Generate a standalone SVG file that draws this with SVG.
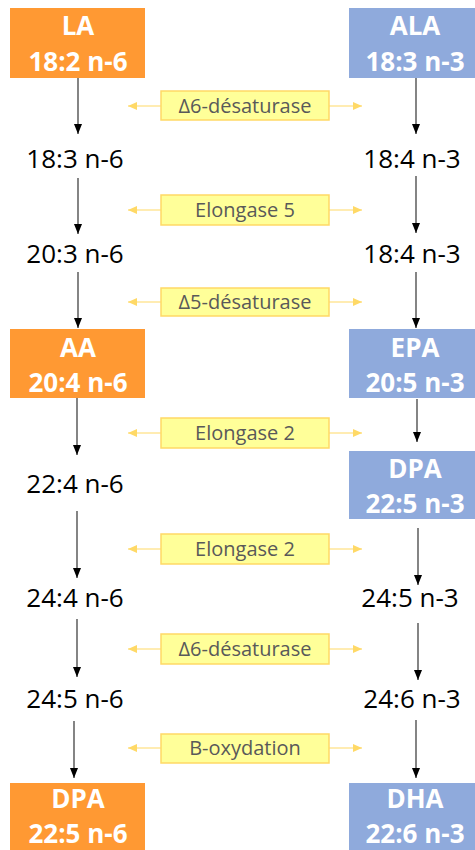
<svg xmlns="http://www.w3.org/2000/svg" width="475" height="850" viewBox="0 0 475 850">
<defs>
<style>
.or{fill:#FF9933}
.bl{fill:#8FAADC}
.bt{font-family:"Open Sans","Liberation Sans",sans-serif;font-weight:bold;font-size:26px;fill:#fff;text-anchor:middle}
.t{font-family:"Open Sans","Liberation Sans",sans-serif;font-size:26px;fill:#000;text-anchor:middle}
.eb{fill:#FFFF99;stroke:#FFD966;stroke-width:1.5}
.et{font-family:"Open Sans","Liberation Sans",sans-serif;font-size:20px;fill:#595959;text-anchor:middle}
.ka{stroke:#333;stroke-width:1.2;fill:none;marker-end:url(#kh)}
.ya{stroke:#FFE699;stroke-width:1.5;fill:none;marker-end:url(#yh)}
</style>
<marker id="kh" markerUnits="userSpaceOnUse" markerWidth="10" markerHeight="10" refX="10" refY="5" orient="auto" viewBox="0 0 10 10">
<path d="M0,1 L10,5 L0,9 z" fill="#000"/>
</marker>
<marker id="yh" markerUnits="userSpaceOnUse" markerWidth="9" markerHeight="9" refX="9" refY="4.5" orient="auto" viewBox="0 0 9 9">
<path d="M0,0.5 L9,4.5 L0,8.5 z" fill="#FFD966"/>
</marker>
</defs>
<rect width="475" height="850" fill="#fff"/>

<g id="connectors">
<line class="ka" x1="78" y1="78" x2="78" y2="134"/>
<line class="ka" x1="78" y1="178" x2="78" y2="234"/>
<line class="ka" x1="78" y1="272" x2="78" y2="328"/>
<line class="ka" x1="77" y1="398" x2="77" y2="455"/>
<line class="ka" x1="77" y1="511" x2="77" y2="578"/>
<line class="ka" x1="77" y1="619" x2="77" y2="677"/>
<line class="ka" x1="74" y1="721" x2="74" y2="778"/>
<line class="ka" x1="416" y1="78" x2="416" y2="134"/>
<line class="ka" x1="416" y1="176" x2="416" y2="233"/>
<line class="ka" x1="416" y1="272" x2="416" y2="328"/>
<line class="ka" x1="417" y1="399" x2="417" y2="442"/>
<line class="ka" x1="418" y1="528" x2="418" y2="585"/>
<line class="ka" x1="418" y1="623" x2="418" y2="680"/>
<line class="ka" x1="416" y1="720" x2="416" y2="778"/>
<line class="ya" x1="161" y1="106" x2="128" y2="106"/>
<line class="ya" x1="329" y1="106" x2="362" y2="106"/>
<line class="ya" x1="161" y1="210" x2="128" y2="210"/>
<line class="ya" x1="329" y1="210" x2="362" y2="210"/>
<line class="ya" x1="161" y1="302" x2="128" y2="302"/>
<line class="ya" x1="329" y1="302" x2="362" y2="302"/>
<line class="ya" x1="161" y1="433" x2="128" y2="433"/>
<line class="ya" x1="329" y1="433" x2="362" y2="433"/>
<line class="ya" x1="161" y1="549" x2="128" y2="549"/>
<line class="ya" x1="329" y1="549" x2="362" y2="549"/>
<line class="ya" x1="161" y1="649" x2="128" y2="649"/>
<line class="ya" x1="329" y1="649" x2="362" y2="649"/>
<line class="ya" x1="161" y1="748" x2="128" y2="748"/>
<line class="ya" x1="329" y1="748" x2="362" y2="748"/>
</g>

<g id="LA"><rect class="or" x="10" y="8" width="135" height="70"/><text class="bt" x="78" y="35">LA</text><text class="bt" x="78" y="71">18:2 n-6</text></g>
<g id="ALA"><rect class="bl" x="349" y="8" width="133" height="70"/><text class="bt" x="415" y="35">ALA</text><text class="bt" x="415" y="71">18:3 n-3</text></g>
<g id="n6-18-3"><text class="t" x="75" y="168">18:3 n-6</text></g>
<g id="n3-18-4a"><text class="t" x="412" y="168">18:4 n-3</text></g>
<g id="n6-20-3"><text class="t" x="75" y="263">20:3 n-6</text></g>
<g id="n3-18-4b"><text class="t" x="412" y="263">18:4 n-3</text></g>
<g id="AA"><rect class="or" x="10" y="329" width="135" height="69"/><text class="bt" x="78" y="357">AA</text><text class="bt" x="78" y="392">20:4 n-6</text></g>
<g id="EPA"><rect class="bl" x="349" y="329" width="133" height="69"/><text class="bt" x="415" y="357">EPA</text><text class="bt" x="415" y="392">20:5 n-3</text></g>
<g id="n6-22-4"><text class="t" x="75" y="493">22:4 n-6</text></g>
<g id="DPA3"><rect class="bl" x="349" y="451" width="133" height="68"/><text class="bt" x="415" y="478">DPA</text><text class="bt" x="415" y="513">22:5 n-3</text></g>
<g id="n6-24-4"><text class="t" x="75" y="607">24:4 n-6</text></g>
<g id="n3-24-5"><text class="t" x="410" y="607">24:5 n-3</text></g>
<g id="n6-24-5"><text class="t" x="75" y="708">24:5 n-6</text></g>
<g id="n3-24-6"><text class="t" x="412" y="708">24:6 n-3</text></g>
<g id="DPA6"><rect class="or" x="10" y="783" width="135" height="70"/><text class="bt" x="78" y="808">DPA</text><text class="bt" x="78" y="843">22:5 n-6</text></g>
<g id="DHA"><rect class="bl" x="349" y="783" width="133" height="70"/><text class="bt" x="415" y="808">DHA</text><text class="bt" x="415" y="843">22:6 n-3</text></g>

<g id="e1"><rect class="eb" x="161" y="91" width="168" height="29"/><text class="et" x="245" y="113">Δ6-désaturase</text></g>
<g id="e2"><rect class="eb" x="161" y="195" width="168" height="30"/><text class="et" x="245" y="217">Elongase 5</text></g>
<g id="e3"><rect class="eb" x="161" y="288" width="168" height="28"/><text class="et" x="245" y="309">Δ5-désaturase</text></g>
<g id="e4"><rect class="eb" x="161" y="418" width="168" height="30"/><text class="et" x="245" y="440">Elongase 2</text></g>
<g id="e5"><rect class="eb" x="161" y="534" width="168" height="30"/><text class="et" x="245" y="556">Elongase 2</text></g>
<g id="e6"><rect class="eb" x="161" y="634" width="168" height="30"/><text class="et" x="245" y="656">Δ6-désaturase</text></g>
<g id="e7"><rect class="eb" x="161" y="734" width="168" height="29"/><text class="et" x="245" y="755">B-oxydation</text></g>
</svg>
